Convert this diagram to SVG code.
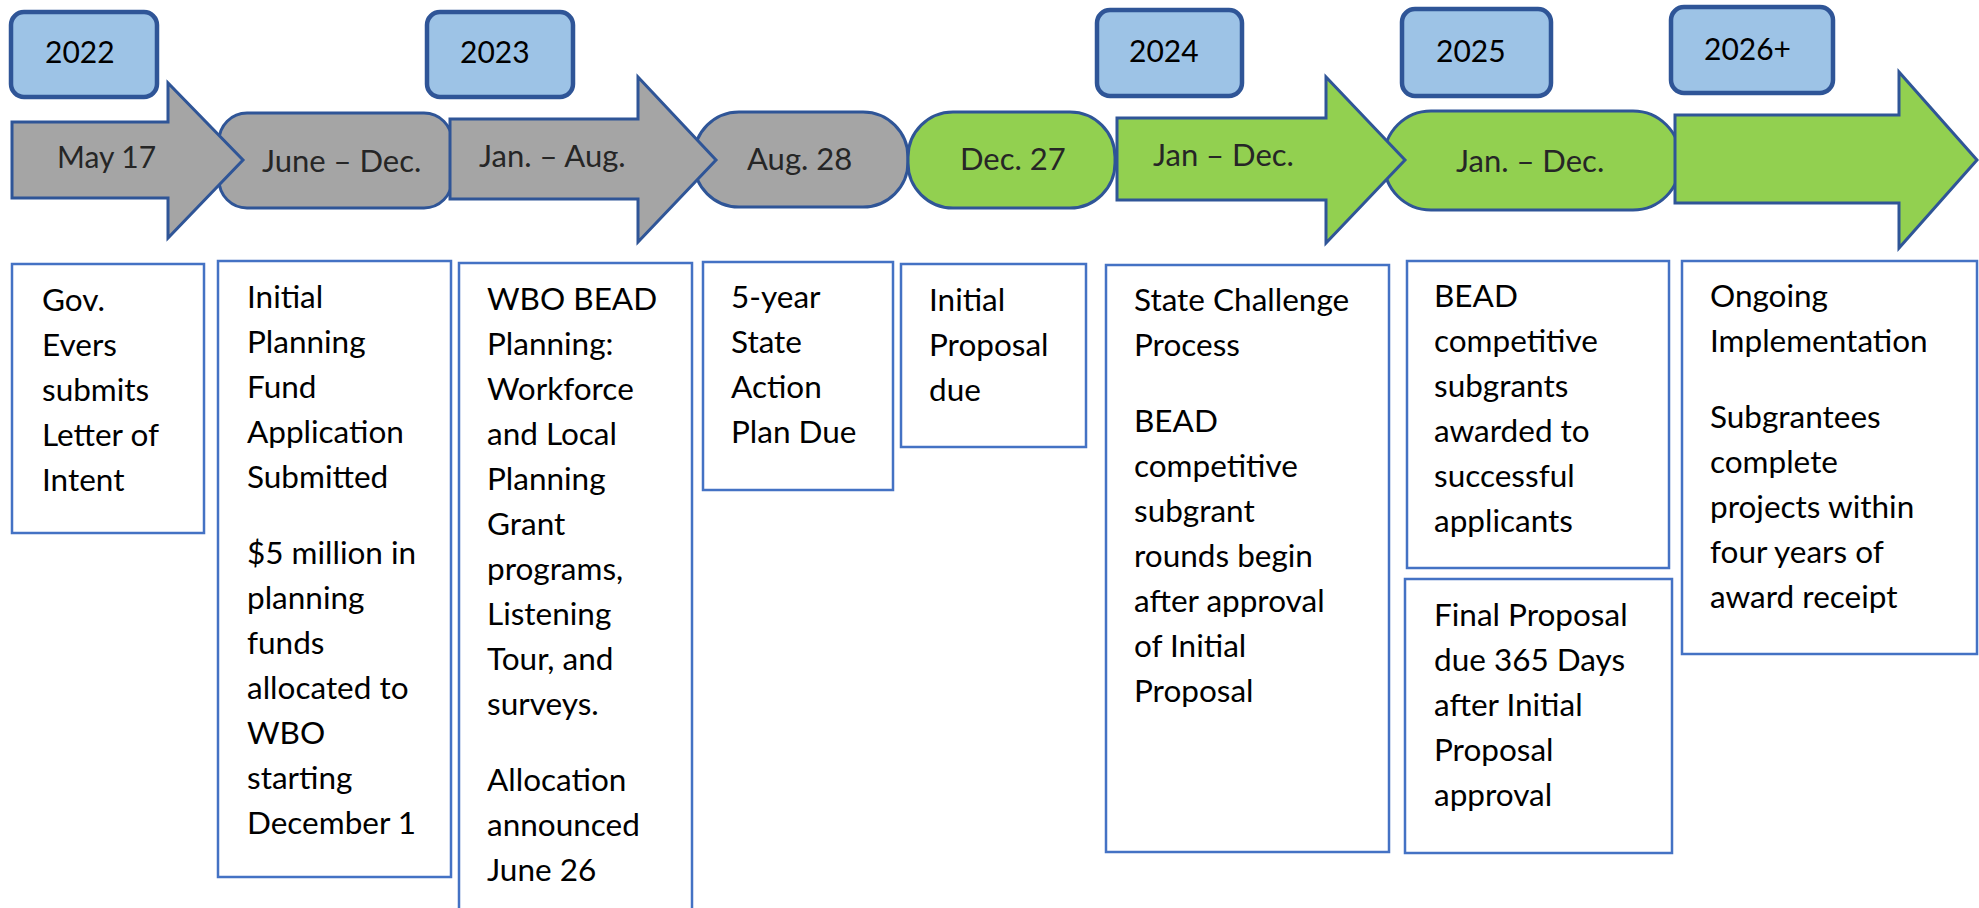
<svg xmlns="http://www.w3.org/2000/svg" width="1979" height="908" viewBox="0 0 1979 908">
<style>
.yr{fill:#9DC3E6;stroke:#2F5597;stroke-width:4.5}
.gray{fill:#A5A5A5;stroke:#2F5597;stroke-width:3}
.green{fill:#92D050;stroke:#2F5597;stroke-width:3}
.box{fill:#FFFFFF;stroke:#4472C4;stroke-width:2.5}
text{font-family:Lato,"Liberation Sans",sans-serif;font-size:31px}
.yt{fill:#000000;font-size:30px}
.tl{fill:#262626}
.bt{fill:#000000;font-size:31.5px}
</style>
<rect width="1979" height="908" fill="#FFFFFF"/>
<g id="timeline-pills">
<g id="pill-june-dec"><rect class="gray" x="219" y="113" width="233" height="95" rx="28"/><text class="tl" x="262" y="172">June – Dec.</text></g>
<g id="pill-aug-28"><rect class="gray" x="694" y="112" width="214" height="95" rx="45"/><text class="tl" x="747" y="170">Aug. 28</text></g>
<g id="pill-dec-27"><rect class="green" x="908" y="112" width="207" height="96" rx="45"/><text class="tl" x="960" y="170">Dec. 27</text></g>
<g id="pill-2025"><rect class="green" x="1384" y="111" width="296" height="99" rx="47"/><text class="tl" x="1456" y="172">Jan. – Dec.</text></g>
</g>
<g id="timeline-arrows">
<g id="arrow-may-17"><path class="gray" d="M12,122 H168 V83 L243,160 L168,238 V198 H12 Z"/><text class="tl" x="57" y="168" style="font-size:30px">May 17</text></g>
<g id="arrow-jan-aug"><path class="gray" d="M450,119 H638 V77 L716,160 L638,242 V199 H450 Z"/><text class="tl" x="479" y="167">Jan. – Aug.</text></g>
<g id="arrow-2024"><path class="green" d="M1117,118 H1326 V77 L1405,160 L1326,243 V200 H1117 Z"/><text class="tl" x="1153" y="166">Jan – Dec.</text></g>
<g id="arrow-2026"><path class="green" d="M1675,115 H1899 V72 L1977,160 L1899,248 V203 H1675 Z"/></g>
</g>
<g id="years">
<g id="year-2022"><rect class="yr" x="11" y="12" width="146" height="85" rx="13"/><text class="yt" x="45" y="63">2022</text></g>
<g id="year-2023"><rect class="yr" x="427" y="12" width="146" height="85" rx="13"/><text class="yt" x="460" y="63">2023</text></g>
<g id="year-2024"><rect class="yr" x="1097" y="10" width="145" height="86" rx="13"/><text class="yt" x="1129" y="62">2024</text></g>
<g id="year-2025"><rect class="yr" x="1402" y="9" width="149" height="87" rx="13"/><text class="yt" x="1436" y="62">2025</text></g>
<g id="year-2026"><rect class="yr" x="1671" y="7" width="162" height="86" rx="13"/><text class="yt" x="1704" y="60">2026+</text></g>
</g>
<g id="connectors"></g>
<g id="box-gov-evers"><rect class="box" x="12" y="264" width="192" height="269"/>
<text class="bt" x="42" y="311">Gov.<tspan x="42" dy="45">Evers</tspan><tspan x="42" dy="45">submits</tspan><tspan x="42" dy="45">Letter of</tspan><tspan x="42" dy="45">Intent</tspan></text></g>
<g id="box-initial-planning"><rect class="box" x="218" y="261" width="233" height="616"/>
<text class="bt" x="247" y="308">Initial<tspan x="247" dy="45">Planning</tspan><tspan x="247" dy="45">Fund</tspan><tspan x="247" dy="45">Application</tspan><tspan x="247" dy="45">Submitted</tspan><tspan x="247" dy="76">$5 million in</tspan><tspan x="247" dy="45">planning</tspan><tspan x="247" dy="45">funds</tspan><tspan x="247" dy="45">allocated to</tspan><tspan x="247" dy="45">WBO</tspan><tspan x="247" dy="45">starting</tspan><tspan x="247" dy="45">December 1</tspan></text></g>
<g id="box-wbo-bead"><rect class="box" x="459" y="263" width="233" height="670"/>
<text class="bt" x="487" y="310">WBO BEAD<tspan x="487" dy="45">Planning:</tspan><tspan x="487" dy="45">Workforce</tspan><tspan x="487" dy="45">and Local</tspan><tspan x="487" dy="45">Planning</tspan><tspan x="487" dy="45">Grant</tspan><tspan x="487" dy="45">programs,</tspan><tspan x="487" dy="45">Listening</tspan><tspan x="487" dy="45">Tour, and</tspan><tspan x="487" dy="45">surveys.</tspan><tspan x="487" dy="76">Allocation</tspan><tspan x="487" dy="45">announced</tspan><tspan x="487" dy="45">June 26</tspan></text></g>
<g id="box-action-plan"><rect class="box" x="703" y="262" width="190" height="228"/>
<text class="bt" x="731" y="308">5-year<tspan x="731" dy="45">State</tspan><tspan x="731" dy="45">Action</tspan><tspan x="731" dy="45">Plan Due</tspan></text></g>
<g id="box-initial-proposal"><rect class="box" x="901" y="264" width="185" height="183"/>
<text class="bt" x="929" y="311">Initial<tspan x="929" dy="45">Proposal</tspan><tspan x="929" dy="45">due</tspan></text></g>
<g id="box-state-challenge"><rect class="box" x="1106" y="265" width="283" height="587"/>
<text class="bt" x="1134" y="311">State Challenge<tspan x="1134" dy="45">Process</tspan><tspan x="1134" dy="76">BEAD</tspan><tspan x="1134" dy="45">competitive</tspan><tspan x="1134" dy="45">subgrant</tspan><tspan x="1134" dy="45">rounds begin</tspan><tspan x="1134" dy="45">after approval</tspan><tspan x="1134" dy="45">of Initial</tspan><tspan x="1134" dy="45">Proposal</tspan></text></g>
<g id="box-subgrants-awarded"><rect class="box" x="1407" y="261" width="262" height="307"/>
<text class="bt" x="1434" y="307">BEAD<tspan x="1434" dy="45">competitive</tspan><tspan x="1434" dy="45">subgrants</tspan><tspan x="1434" dy="45">awarded to</tspan><tspan x="1434" dy="45">successful</tspan><tspan x="1434" dy="45">applicants</tspan></text></g>
<g id="box-final-proposal"><rect class="box" x="1405" y="579" width="267" height="274"/>
<text class="bt" x="1434" y="626">Final Proposal<tspan x="1434" dy="45">due 365 Days</tspan><tspan x="1434" dy="45">after Initial</tspan><tspan x="1434" dy="45">Proposal</tspan><tspan x="1434" dy="45">approval</tspan></text></g>
<g id="box-ongoing"><rect class="box" x="1682" y="261" width="295" height="393"/>
<text class="bt" x="1710" y="307">Ongoing<tspan x="1710" dy="45">Implementation</tspan><tspan x="1710" dy="76">Subgrantees</tspan><tspan x="1710" dy="45">complete</tspan><tspan x="1710" dy="45">projects within</tspan><tspan x="1710" dy="45">four years of</tspan><tspan x="1710" dy="45">award receipt</tspan></text></g>
</svg>
